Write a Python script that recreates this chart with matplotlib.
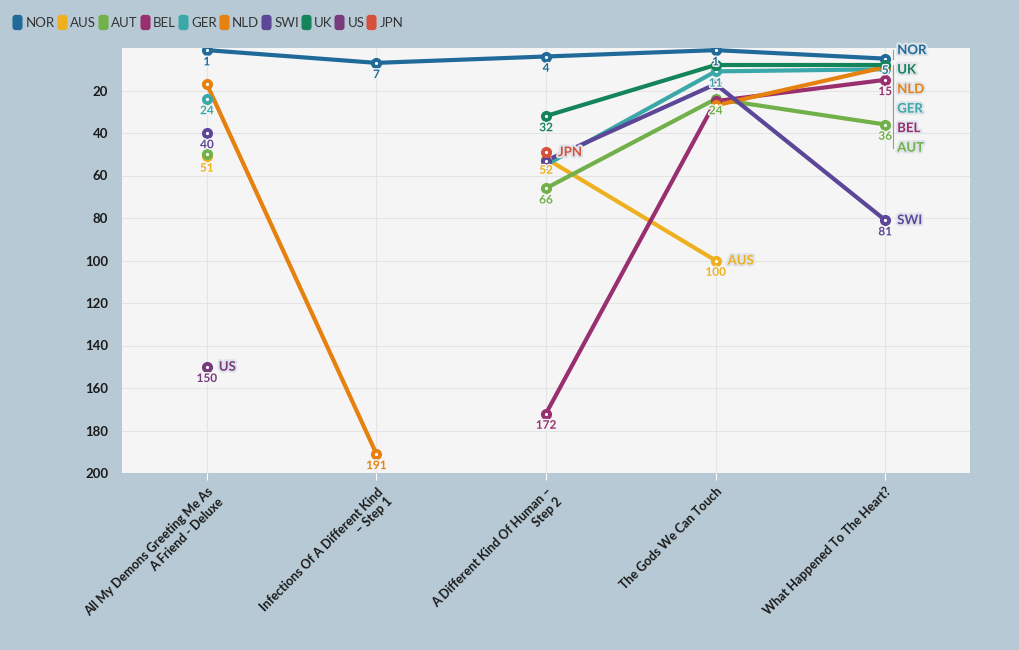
import matplotlib
matplotlib.use("Agg")
import matplotlib.pyplot as plt
import matplotlib.patheffects as pe
import matplotlib.patches as mpatches
from matplotlib.transforms import offset_copy
from matplotlib.lines import Line2D

# --- Dados ---
albums = [
    "All My Demons Greeting Me As\nA Friend - Deluxe",
    "Infections Of A Different Kind\n– Step 1",
    "A Different Kind Of Human –\nStep 2",
    "The Gods We Can Touch",
    "What Happened To The Heart?",
]
countries = ["NOR", "AUS", "AUT", "BEL", "GER", "NLD", "SWI", "UK", "US", "JPN"]

NOR = [1, 7, 4, 1, 5]
AUS = [51, None, 52, 100, None]
AUT = [50, None, 66, 24, 36]
BEL = [None, None, 172, 25, 15]
GER = [24, None, 55, 11, 10]
NLD = [17, 191, None, 27, 9]
SWI = [40, None, 53, 17, 81]
UK = [None, None, 32, 8, 8]
US = [150, None, None, None, None]
JPN = [None, None, 49, None, None]
series = [NOR, AUS, AUT, BEL, GER, NLD, SWI, UK, US, JPN]

colors = ["#1f6a99", "#efb01f", "#72b04a", "#992f6f", "#3aa8a8",
          "#e6800e", "#5c4697", "#14855a", "#773a7a", "#d6513c"]

BG = "#b7c9d4"
PLOT_BG = "#f5f5f5"
FONT = "Lato"

fig = plt.figure(figsize=(10.2, 6.5), dpi=100, facecolor=BG)
ax = fig.add_axes([122 / 1020, 1 - 473 / 650, 848 / 1020, 425 / 650])
ax.set_facecolor(PLOT_BG)
for s in ax.spines.values():
    s.set_visible(False)

ax.set_xlim(-0.5, 4.5)
ax.set_ylim(200, 0)
ax.set_yticks(range(20, 201, 20))
ax.set_xticks(range(len(albums)))
ax.set_xticklabels(albums, rotation=45, ha="right", rotation_mode="anchor",
                   fontsize=9, fontweight="bold", family=FONT, color="#1a1a1a",
                   multialignment="right")
for lab in ax.get_yticklabels():
    lab.set_fontweight("bold")
    lab.set_fontsize(9.5)
    lab.set_family(FONT)
    lab.set_color("#1a1a1a")
ax.tick_params(axis="y", length=0, pad=10)
ax.tick_params(axis="x", length=5, color="white", pad=4)
ax.grid(True, color="#e4e4e4", linewidth=0.8)
ax.set_axisbelow(True)

# unidades de dados por pixel (eixo y)
px_per_unit = 425 / 200.0
label_gap = 19.5 / px_per_unit
label_min_gap = 8

# --- Linhas e marcadores ---
for i, (name, vals) in enumerate(zip(countries, series)):
    col = colors[i]
    seg_x, seg_y = [], []
    for j, v in enumerate(vals + [None]):
        if v is None:
            if len(seg_x) > 1:
                ax.plot(seg_x, seg_y, color=col, lw=3, solid_capstyle="round", zorder=3 + i * 0.1)
            seg_x, seg_y = [], []
        else:
            seg_x.append(j)
            seg_y.append(v)
    xs = [j for j, v in enumerate(vals) if v is not None]
    ys = [v for v in vals if v is not None]
    ax.plot(xs, ys, "o", color=col, ms=7, mec=col, zorder=4 + i * 0.1)
    ax.plot(xs, ys, "o", color="white", ms=2.3, mew=0, zorder=4.05 + i * 0.1)

# --- Rótulos de valores (evita sobreposição) ---
for j in range(len(albums)):
    shown = []
    for i, vals in enumerate(series):
        v = vals[j]
        if v is None:
            continue
        if any(abs(v - s) < label_min_gap for s in shown):
            continue
        shown.append(v)
        ax.annotate(str(v), (j, v), xytext=(0, -4.5), textcoords="offset points",
                    ha="center", va="top", fontsize=8.5, fontweight="bold",
                    family=FONT, color=colors[i], zorder=6,
                    path_effects=[pe.withStroke(linewidth=2, foreground=PLOT_BG)])


# --- Rótulos finais de cada série ---
def spread(values, gap, lo):
    order = sorted(range(len(values)), key=lambda k: values[k])
    groups = []

    def start_of(g):
        m = sum(values[q] for q in g) / len(g)
        return max(lo, m - (len(g) - 1) * gap / 2)

    for k in order:
        groups.append([k])
        while len(groups) > 1:
            p, g = groups[-2], groups[-1]
            if start_of(p) + len(p) * gap > start_of(g):
                groups[-2] = p + g
                groups.pop()
            else:
                break
    pos = {}
    for g in groups:
        st = start_of(g)
        for n, q in enumerate(g):
            pos[q] = st + n * gap
    return [pos[k] for k in range(len(values))]


ends = {}
for i, vals in enumerate(series):
    last = max(j for j, v in enumerate(vals) if v is not None)
    ends.setdefault(last, []).append(i)

lead_tr = offset_copy(ax.transData, fig=fig, x=8, y=0, units="dots")
text_tr = offset_copy(ax.transData, fig=fig, x=12, y=0, units="dots")
for j, idxs in ends.items():
    vals = [series[i][j] for i in idxs]
    pos = spread(vals, label_gap, 1)
    for i, v, p in zip(idxs, vals, pos):
        if abs(p - v) > 0.5:
            ax.plot([j, j], [v, p], color="#999999", lw=0.8, transform=lead_tr,
                    zorder=2.5, clip_on=False)
        ax.text(j, p, countries[i], transform=text_tr, ha="left", va="center",
                fontsize=9.5, fontweight="bold", family=FONT, color=colors[i],
                zorder=7, clip_on=False,
                path_effects=[pe.withStroke(linewidth=3, foreground="#dfe3ea")])

# --- Legenda ---
# marcador retangular com cantos arredondados
rr = mpatches.FancyBboxPatch((-0.33, -0.5), 0.66, 1.0,
                             boxstyle="round,pad=0,rounding_size=0.2")
rr_path = rr.get_path()
handles = [Line2D([], [], marker=rr_path, ls="", ms=11, color=c, mew=0) for c in colors]
leg = fig.legend(handles, countries, loc="upper left", bbox_to_anchor=(0.008, 0.982),
                 ncol=len(countries), frameon=False, handletextpad=0.35,
                 columnspacing=0.2, handlelength=0.6, borderaxespad=0,
                 prop={"family": FONT, "size": 9.5})
for t in leg.get_texts():
    t.set_color("#333333")

fig.savefig("out.png", dpi=100, facecolor=BG)
